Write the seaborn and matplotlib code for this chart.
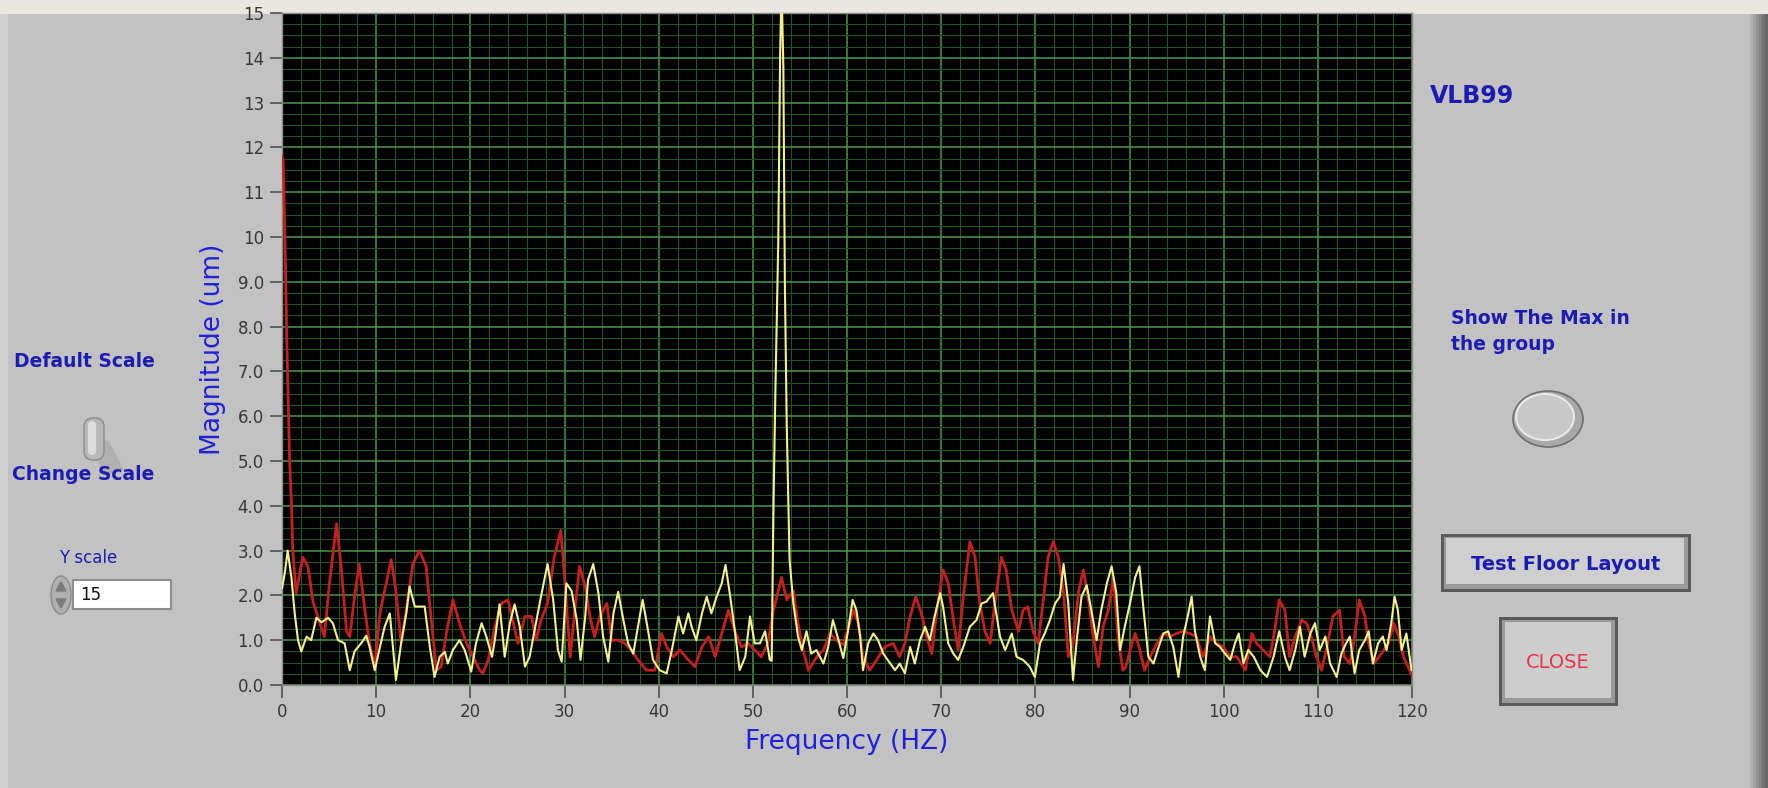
import numpy as np
import pandas as pd
import matplotlib
matplotlib.use("Agg")
import matplotlib.pyplot as plt
from matplotlib.patches import Rectangle, FancyBboxPatch, Ellipse, Polygon
from matplotlib.ticker import MultipleLocator, FuncFormatter
import seaborn as sns

# ---------------- spectrum data ----------------
red_freq = [0.0, 0.12, 0.28, 0.56, 0.81, 1.0, 1.15, 1.5, 2.2, 2.75, 3.3, 3.85, 4.5, 5.05, 5.8, 6.3,
            6.85, 7.2, 7.7, 8.2, 8.8, 9.3, 9.85, 10.4, 11.1, 11.6, 12.1, 12.65, 13.2, 13.9, 14.6,
            15.3, 15.85, 16.4, 16.9, 17.45, 18.15, 18.85, 19.6, 20.3, 21.0, 21.35, 21.9, 22.6,
            23.3, 24.0, 24.5, 25.05, 25.8, 26.5, 27.0, 27.5, 28.2, 28.9, 29.6, 30.05, 30.6, 31.1,
            31.6, 32.2, 32.7, 33.2, 33.75, 34.5, 35.0, 35.7, 36.4, 37.1, 37.8, 38.7, 39.6, 40.3,
            40.85, 41.55, 42.25, 43.15, 43.85, 44.6, 45.3, 46.0, 46.7, 47.4, 48.1, 48.8, 49.5,
            50.2, 50.9, 51.6, 52.2, 52.7, 53.05, 53.6, 54.3, 54.8, 55.35, 55.9, 56.8, 57.5, 58.2,
            58.9, 59.6, 59.95, 60.7, 61.2, 61.7, 62.4, 63.15, 64.0, 64.9, 65.6, 66.15, 66.7, 67.3,
            67.9, 68.45, 69.0, 69.5, 70.2, 70.75, 71.3, 71.8, 72.35, 73.05, 73.6, 74.1, 74.65,
            75.2, 75.7, 76.4, 76.9, 77.5, 78.2, 78.7, 79.2, 79.75, 80.3, 80.8, 81.35, 81.9, 82.45,
            83.0, 83.5, 84.0, 84.6, 85.1, 85.6, 86.15, 86.7, 87.2, 87.75, 88.3, 88.8, 89.3, 89.6,
            90.05, 90.6, 91.1, 91.6, 92.2, 92.9, 93.6, 94.3, 95.0, 95.7, 96.4, 97.1, 97.8, 98.55,
            99.25, 99.95, 100.7, 101.4, 102.3, 103.0, 103.5, 104.2, 104.9, 105.4, 105.9, 106.5,
            107.0, 107.6, 108.3, 108.8, 109.3, 109.85, 110.4, 110.9, 111.6, 112.3, 112.8, 113.4,
            113.9, 114.4, 115.0, 115.4, 115.95, 116.5, 117.0, 117.5, 118.05, 118.6, 119.1,
            119.75, 120.0]
red_mag = [11.8, 11.7, 10.3, 7.2, 5.0, 4.05, 3.0, 2.05, 2.85, 2.65, 1.85, 1.5, 1.08, 2.3, 3.6, 2.6,
           1.2, 1.08, 1.97, 2.7, 1.67, 0.93, 0.41, 1.6, 2.3, 2.8, 2.1, 0.93, 1.67, 2.7, 3.0,
           2.65, 1.45, 0.33, 0.41, 1.15, 1.9, 1.38, 0.93, 0.63, 0.33, 0.26, 0.56, 1.3,
           1.82, 1.9, 1.45, 0.93, 1.53, 1.53, 1.0, 1.45, 1.82, 2.85, 3.45, 2.3, 0.63, 1.67,
           2.65, 2.2, 1.53, 1.08, 1.53, 1.82, 1.0, 1.0, 0.93, 0.78, 0.56, 0.33, 0.33, 1.15,
           0.85, 0.63, 0.78, 0.56, 0.41, 0.85, 1.08, 0.63, 1.15, 1.67, 1.2, 0.85, 0.93,
           0.78, 0.63, 0.93, 1.67, 2.1, 2.4, 1.9, 2.1, 1.38, 0.78, 0.33, 0.63, 0.78, 1.15,
           1.0, 0.9, 1.15, 1.67, 1.38, 0.63, 0.33, 0.56, 0.85, 0.93, 0.63, 0.93, 1.53, 1.97,
           1.6, 1.08, 0.7, 1.6, 2.57, 2.27, 1.45, 0.78, 1.97, 3.2, 2.85, 1.82, 1.2,
           0.93, 1.82, 2.85, 2.57, 1.67, 1.2, 1.67, 1.75, 1.2, 0.93, 1.82, 2.85, 3.2, 2.85,
           2.05, 0.63, 0.93, 2.1, 2.57, 1.97, 1.08, 0.41, 1.3, 1.67, 2.4, 1.0, 0.33, 0.4,
           0.78, 1.15, 0.78, 0.33, 0.63, 0.93, 1.15, 1.08, 1.15, 1.2, 1.15, 1.08, 0.63, 1.08,
           0.93, 0.85, 0.63, 0.63, 0.33, 1.15, 0.93, 0.78, 0.63, 1.2, 1.9, 1.67,
           0.63, 1.08, 1.45, 1.38, 1.08, 0.63, 0.33, 0.78, 1.53, 1.67, 0.63, 0.48,
           1.08, 1.9, 1.53, 0.93, 0.48, 0.63, 0.78, 0.93, 1.38, 1.08, 0.63,
           0.33, 0.2]

yellow_freq = [0.0, 0.3, 0.6, 1.0, 1.35, 1.7, 2.05, 2.6, 3.1, 3.65, 4.2, 4.9, 5.4, 5.95, 6.65, 7.2,
               7.7, 8.4, 8.95, 9.3, 9.85, 10.4, 10.9, 11.45, 12.1, 12.65, 13.2, 13.55, 14.1, 15.15,
               15.7, 16.2, 16.75, 17.3, 17.6, 18.15, 18.85, 19.4, 20.1, 20.6, 21.2, 21.7, 22.3,
               22.6, 23.1, 23.65, 24.2, 24.7, 25.25, 25.8, 26.3, 26.8, 27.5, 28.2, 28.8, 29.3,
               29.7, 30.2, 30.75, 31.3, 31.7, 32.2, 32.5, 33.05, 33.6, 34.1, 34.65, 35.2, 35.7,
               36.25, 36.75, 37.3, 37.8, 38.3, 38.8, 39.4, 40.1, 40.85, 41.4, 42.1, 42.6, 43.15,
               43.5, 44.0, 44.6, 45.1, 45.6, 46.15, 46.7, 47.1, 47.6, 48.1, 48.6, 49.2, 49.7,
               50.2, 50.75, 51.3, 51.8, 52.0, 52.2, 52.4, 52.7, 52.9, 53.05, 53.24, 53.4, 53.6,
               53.9, 54.3, 54.8, 55.2, 55.7, 56.2, 56.75, 57.5, 58.0, 58.5, 59.1, 59.6, 60.1,
               60.6, 61.0, 61.4, 61.7, 62.25, 62.8, 63.3, 63.85, 64.6, 65.1, 65.6, 66.15, 66.7,
               67.2, 67.75, 68.3, 68.8, 69.3, 69.9, 70.2, 70.75, 71.3, 71.8, 72.35, 73.05, 73.75,
               74.3, 74.8, 75.5, 75.9, 76.25, 76.8, 77.5, 78.0, 78.7, 79.4, 79.95, 80.5, 81.0,
               81.55, 82.1, 82.6, 83.0, 83.5, 84.0, 84.4, 84.9, 85.45, 85.95, 86.5, 87.0, 87.6,
               88.1, 88.6, 89.0, 89.5, 90.05, 90.6, 91.05, 91.5, 92.0, 92.55, 93.1, 93.6, 94.1,
               94.65, 95.2, 95.7, 96.25, 96.6, 96.95, 97.5, 98.0, 98.55, 99.1, 99.6, 100.15,
               100.7, 101.2, 101.6, 102.1, 102.6, 103.2, 103.9, 104.6, 105.3, 105.9, 106.5,
               107.0, 107.6, 108.1, 108.6, 109.2, 109.7, 110.2, 110.8, 111.3, 112.0, 112.5,
               113.0, 113.4, 113.9, 114.4, 115.0, 115.4, 115.85, 116.4, 116.9, 117.3, 117.8,
               118.15, 118.5, 118.9, 119.4, 119.95]
yellow_mag = [2.16, 2.5, 3.0, 2.4, 1.6, 1.0, 0.75, 1.08, 1.0, 1.5, 1.4, 1.5, 1.38, 1.0, 0.93, 0.33,
              0.75, 0.93, 1.1, 0.85, 0.33, 0.85, 1.3, 1.6, 0.11, 0.93, 1.6, 2.2, 1.75, 1.75,
              0.85, 0.18, 0.63, 0.74, 0.48, 0.78, 1.0, 0.78, 0.3, 0.93, 1.38, 1.08, 0.63,
              1.0, 1.8, 0.63, 1.38, 1.8, 1.3, 0.41, 0.63, 1.2, 1.97, 2.7, 1.9, 0.78,
              0.52, 2.27, 2.1, 1.45, 0.56, 1.53, 2.35, 2.7, 2.05, 1.08, 0.52, 1.6, 2.08,
              1.45, 0.93, 0.7, 1.3, 1.9, 1.3, 0.56, 0.33, 0.26, 0.78, 1.53, 1.15, 1.6,
              1.3, 1.0, 1.6, 1.97, 1.6, 1.97, 2.27, 2.68, 1.97, 1.2, 0.33, 0.63, 1.53,
              0.93, 0.93, 1.2, 0.56, 0.54, 4.1, 6.6, 9.9, 14.1, 15.6, 13.8, 9.0, 5.8,
              2.8, 1.82, 1.08, 0.78, 1.2, 0.7, 0.78, 0.48, 0.85, 1.45, 1.0, 0.6, 1.2,
              1.9, 1.67, 1.08, 0.33, 0.93, 1.15, 1.0, 0.7, 0.48, 0.33, 0.48, 0.26, 0.85,
              0.48, 1.0, 1.3, 1.0, 1.53, 2.05, 1.75, 0.93, 0.7, 0.56, 0.85, 1.3, 1.45,
              1.82, 1.86, 2.05, 1.53, 1.08, 0.78, 1.15, 0.63, 0.56, 0.41, 0.18, 0.93, 1.15,
              1.45, 1.82, 1.97, 2.7, 1.82, 0.11, 1.0, 1.97, 2.23, 1.67, 1.0, 1.67, 2.27,
              2.65, 2.05, 0.78, 1.3, 1.82, 2.4, 2.65, 1.67, 0.63, 0.48, 0.85, 1.15, 1.2,
              0.85, 0.18, 1.08, 1.6, 1.97, 1.2, 0.63, 0.33, 1.53, 0.93, 0.85, 0.7,
              0.56, 0.93, 1.15, 0.48, 0.78, 0.63, 0.33, 0.18, 0.63, 1.2, 0.63,
              0.33, 0.78, 1.3, 0.63, 1.15, 1.38, 0.78, 1.08, 0.48, 0.18, 0.7,
              0.93, 1.08, 0.26, 0.78, 1.0, 1.2, 0.48, 0.93, 1.08, 0.78, 1.38,
              1.97, 1.67, 0.78, 1.15, 0.33]

x_ticks = list(range(0, 121, 10))
y_ticks = list(range(0, 16))

W, H = 1768, 788
PANEL = "#c2c2c2"
BLUE = "#1c1cb0"
AXBLUE = "#2020d8"

sns.set_theme(style="dark")
plt.rcParams["font.family"] = ["DejaVu Sans"]

fig = plt.figure(figsize=(W / 100, H / 100), dpi=100, facecolor=PANEL)

# background layer in pixel coordinates (widgets, captions, frame)
bg = fig.add_axes([0, 0, 1, 1], zorder=-1)
bg.set_xlim(0, W)
bg.set_ylim(H, 0)
bg.axis("off")
bg.add_patch(Rectangle((0, 0), W, 14, color="#e9e7df", lw=0))
bg.add_patch(Rectangle((0, 14), 8, H, color="#d2d2d2", lw=0))
for i, c in enumerate(["#b4b4b4", "#a4a4a4", "#949494", "#848484", "#747474", "#686868"]):
    bg.add_patch(Rectangle((1750 + i * 3, 14), 3, H, color=c, lw=0))

# ---------------- spectrum axes ----------------
ax = fig.add_axes([282 / W, 1 - 685 / H, (1412 - 282) / W, (685 - 13) / H])
ax.set_facecolor("black")

df_red = pd.DataFrame({"Frequency": red_freq, "Magnitude": red_mag})
df_yel = pd.DataFrame({"Frequency": yellow_freq, "Magnitude": yellow_mag})
sns.lineplot(data=df_red, x="Frequency", y="Magnitude", ax=ax, color="#c42020",
             linewidth=2.0, estimator=None, sort=True, zorder=3)
sns.lineplot(data=df_yel, x="Frequency", y="Magnitude", ax=ax, color="#f4f28c",
             linewidth=1.5, estimator=None, sort=True, zorder=4)

ax.set_xlim(0, 120)
ax.set_ylim(0, 15)
ax.xaxis.set_major_locator(MultipleLocator(10))
ax.xaxis.set_minor_locator(MultipleLocator(2))
ax.yaxis.set_major_locator(MultipleLocator(1))
ax.yaxis.set_minor_locator(MultipleLocator(0.25))
ax.set_xticks(x_ticks)
ax.set_yticks(y_ticks)
ax.yaxis.set_major_formatter(FuncFormatter(lambda v, p: f"{v:.0f}" if v >= 10 else f"{v:.1f}"))
ax.grid(which="major", color="#4a984a", linewidth=1.1, zorder=1)
ax.grid(which="minor", color="#245224", linewidth=0.8, zorder=1)
ax.set_axisbelow(True)
ax.tick_params(which="major", direction="out", length=9, width=1.2, color="#505050",
               labelsize=12, labelcolor="#383838", pad=4, left=True, bottom=True)
ax.tick_params(which="minor", length=0)
for s in ax.spines.values():
    s.set_color("#8a8a8a")
    s.set_linewidth(1.0)

ax.set_xlabel("Frequency (HZ)", fontsize=19, color=AXBLUE, labelpad=6)
ax.set_ylabel("Magnitude (um)", fontsize=19, color=AXBLUE, labelpad=8)

# ---------------- left controls ----------------
bg.text(14, 361, "Default Scale", fontsize=13.5, fontweight="bold", color=BLUE, va="center", ha="left")
bg.text(12, 474, "Change Scale", fontsize=13.5, fontweight="bold", color=BLUE, va="center", ha="left")
# toggle switch
bg.add_patch(Polygon([[92, 445], [108, 440], [124, 470], [104, 476]], closed=True,
                     color="#a9a9a9", lw=0, alpha=0.7))
bg.add_patch(FancyBboxPatch((84, 418), 20, 42, boxstyle="round,pad=0,rounding_size=9",
                            fc="#b8b8b8", ec="#8c8c8c", lw=1))
bg.add_patch(FancyBboxPatch((88, 421), 8, 34, boxstyle="round,pad=0,rounding_size=4",
                            fc="#dcdcdc", ec="none", lw=0))

bg.text(88, 558, "Y scale", fontsize=12, color=BLUE, va="center", ha="center")
bg.add_patch(Ellipse((61, 595), 20, 38, fc="#b0b0b0", ec="#8a8a8a", lw=1))
bg.add_patch(Polygon([[56, 591], [66, 591], [61, 582]], closed=True, color="#7a7a7a"))
bg.add_patch(Polygon([[56, 599], [66, 599], [61, 608]], closed=True, color="#7a7a7a"))
bg.add_patch(Rectangle((73, 580), 98, 29, fc="white", ec="#8e8e8e", lw=1.5))
bg.text(80, 595, "15", fontsize=12, color="#101010", va="center", ha="left")

# ---------------- right controls ----------------
bg.text(1430, 96, "VLB99", fontsize=17, fontweight="bold", color=BLUE, va="center", ha="left")
bg.text(1451, 318, "Show The Max in", fontsize=13.5, fontweight="bold", color=BLUE, va="center", ha="left")
bg.text(1451, 344, "the group", fontsize=13.5, fontweight="bold", color=BLUE, va="center", ha="left")
bg.add_patch(Ellipse((1548, 419), 70, 56, fc="#a8a8a8", ec="#6e6e6e", lw=1.2))
bg.add_patch(Ellipse((1545, 417), 58, 46, fc="#c8c8c8", ec="#e8e8e8", lw=1.5))

# Test Floor Layout button
bg.add_patch(Rectangle((1441, 534), 250, 58, fc="#5a5a5a", ec="none"))
bg.add_patch(Rectangle((1444, 537), 244, 52, fc="#9a9a9a", ec="none"))
bg.add_patch(Rectangle((1446, 538), 238, 46, fc="#cfcfcf", ec="none"))
bg.text(1566, 564, "Test Floor Layout", fontsize=14, fontweight="bold", color=BLUE,
        va="center", ha="center")

# CLOSE button
bg.add_patch(Rectangle((1499, 617), 119, 89, fc="#5a5a5a", ec="none"))
bg.add_patch(Rectangle((1502, 620), 113, 83, fc="#9a9a9a", ec="none"))
bg.add_patch(Rectangle((1505, 622), 106, 76, fc="#cdcdcd", ec="none"))
bg.text(1558, 662, "CLOSE", fontsize=14, color="#e8344a", va="center", ha="center")

fig.savefig("out.png", dpi=100, facecolor=PANEL)
